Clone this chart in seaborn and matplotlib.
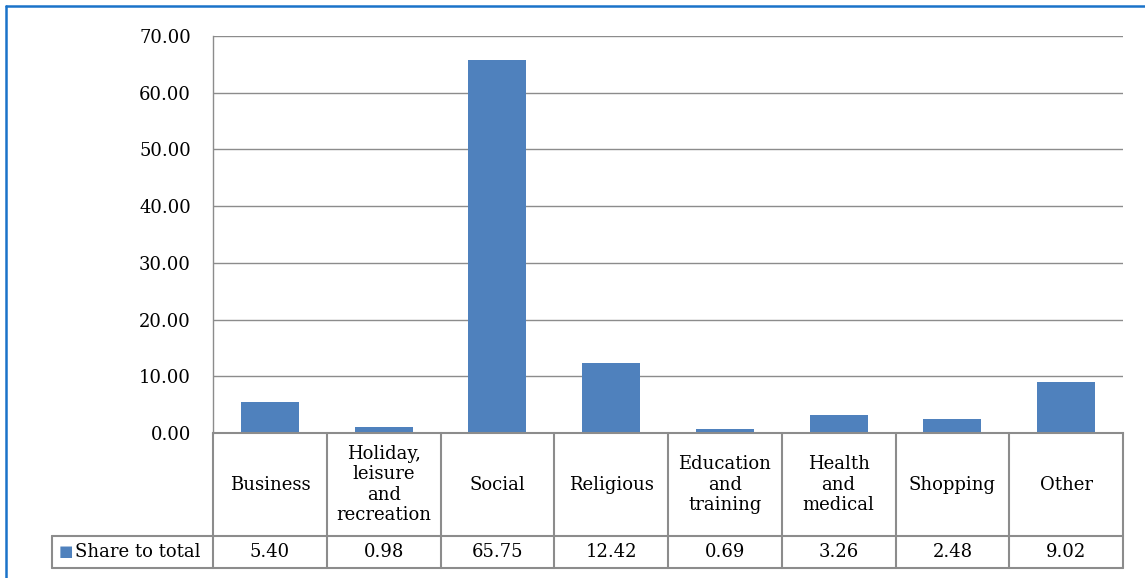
import matplotlib
matplotlib.use("Agg")
import matplotlib.pyplot as plt
import matplotlib.transforms as mtransforms
import seaborn as sns
import pandas as pd

# data
categories = ["Business", "Holiday,\nleisure\nand\nrecreation", "Social", "Religious",
              "Education\nand\ntraining", "Health\nand\nmedical", "Shopping", "Other"]
share = [5.40, 0.98, 65.75, 12.42, 0.69, 3.26, 2.48, 9.02]
series_name = "Share to total"
yticks = [0, 10, 20, 30, 40, 50, 60, 70]

bar_color = "#4f81bd"
line_gray = "#8c8c8c"
fs = 13

sns.set_style("white")
plt.rcParams["font.family"] = ["DejaVu Serif"]
plt.rcParams["text.color"] = "black"
plt.rcParams["ytick.color"] = "black"

W, H = 1145, 578
fig = plt.figure(figsize=(W / 100, H / 100), dpi=100)
ax = fig.add_axes([213 / W, (H - 433) / H, 910 / W, 397 / H])

df = pd.DataFrame({"category": categories, "share": share})
sns.barplot(data=df, x="category", y="share", color=bar_color, width=0.51,
            saturation=1, ax=ax, edgecolor="none")

ax.set_ylim(0, 70)
ax.set_xlim(-0.5, len(categories) - 0.5)
ax.set_yticks(yticks)
ax.set_yticklabels([f"{v:.2f}" for v in yticks], fontsize=fs, color="black")
ax.tick_params(axis="y", length=0, pad=16)
ax.set_xticks([])
ax.set_xlabel("")
ax.set_ylabel("")
ax.grid(axis="y", color=line_gray, linewidth=1.0)
ax.set_axisbelow(True)
for s in ["top", "right"]:
    ax.spines[s].set_visible(False)
ax.spines["left"].set_color(line_gray)
ax.spines["left"].set_linewidth(1.0)
ax.spines["bottom"].set_color(line_gray)
ax.spines["bottom"].set_linewidth(1.5)

# data table below the axes (x in data units, y in axes fraction)
trans = mtransforms.blended_transform_factory(ax.transData, ax.transAxes)
row1 = -103 / 397
row2 = -135 / 397
n = len(categories)
label_left = -0.5 - 161 / 113.75
kw = dict(transform=trans, color=line_gray, linewidth=1.5, clip_on=False)
for i in range(n + 1):
    ax.plot([i - 0.5, i - 0.5], [0, row2], **kw)
ax.plot([label_left, n - 0.5], [row1, row1], **kw)
ax.plot([label_left, n - 0.5], [row2, row2], **kw)
ax.plot([label_left, label_left], [row1, row2], **kw)

for i, (c, v) in enumerate(zip(categories, share)):
    ax.text(i, row1 / 2, c, transform=trans, ha="center", va="center",
            fontsize=fs, linespacing=1.15, clip_on=False)
    ax.text(i, (row1 + row2) / 2, f"{v:.2f}", transform=trans, ha="center",
            va="center", fontsize=fs, clip_on=False)

# legend key in the table
ax.text(label_left + 0.06, (row1 + row2) / 2, "\u25a0", transform=trans, color=bar_color,
        ha="left", va="center", fontsize=11, clip_on=False)
ax.text(label_left + 0.2, (row1 + row2) / 2, series_name, transform=trans,
        ha="left", va="center", fontsize=fs, clip_on=False)

# blue frame around the chart
frame = "#1a73c9"
fig.add_artist(plt.Line2D([6 / W, 1], [1 - 6 / H, 1 - 6 / H], color=frame, linewidth=1.8))
fig.add_artist(plt.Line2D([6 / W, 6 / W], [0, 1 - 6 / H], color=frame, linewidth=1.8))

fig.savefig("out.png", dpi=100)
